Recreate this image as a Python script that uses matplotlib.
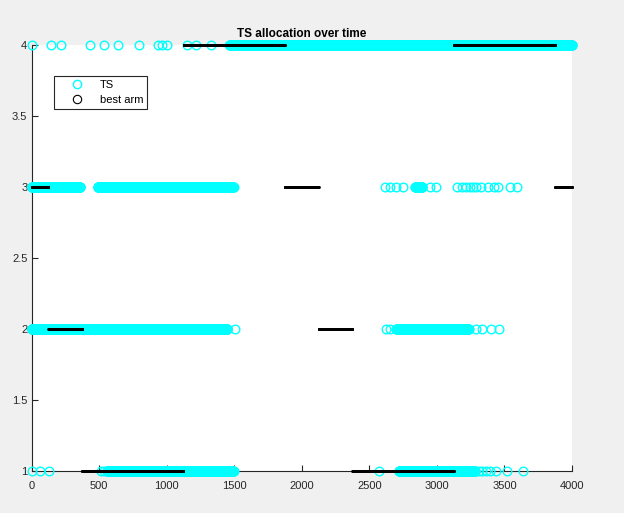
import numpy as np
import matplotlib.pyplot as plt
from matplotlib.lines import Line2D

plt.rcParams['font.family'] = ['Liberation Sans', 'DejaVu Sans']

# best arm, piecewise constant: segments [start, end) and arm
best_start = [0, 125, 375, 1125, 1875, 2125, 2375, 3125, 3875]
best_end = [125, 375, 1125, 1875, 2125, 2375, 3125, 3875, 4000]
best_arm = [3, 2, 1, 4, 3, 2, 1, 4, 3]

# TS choices: dense runs (start, end) and single picks, per arm
ts_runs = {
    1: [(560, 1495), (2720, 3285)],
    2: [(0, 1450), (2700, 3235)],
    3: [(0, 360), (490, 1495), (2840, 2890)],
    4: [(1465, 4000)],
}
ts_single = {
    1: [0, 63, 130, 515, 540, 2572, 3310, 3336, 3366, 3395, 3440, 3518, 3637],
    2: [1505, 2621, 2656, 3292, 3336, 3403, 3459],
    3: [2614, 2651, 2700, 2749, 2946, 2996, 3150, 3185, 3215, 3242, 3265,
        3292, 3329, 3378, 3420, 3452, 3543, 3592],
    4: [0, 144, 218, 432, 536, 637, 795, 938, 962, 1000, 1147, 1214, 1325],
}

fig = plt.figure(figsize=(6.24, 5.13), dpi=100)
fig.patch.set_facecolor('#f0f0f0')
ax = fig.add_axes([0.0505, 0.0819, 0.8662, 0.8304])

for arm in [1, 2, 3, 4]:
    t = list(ts_single[arm])
    for a, b in ts_runs[arm]:
        t.extend(range(a, b + 1))
    t = np.array(t)
    ax.plot(t, np.full(len(t), arm), 'o', color='cyan', mfc='none',
            markersize=6.2, mew=1.0, clip_on=False, zorder=3)

for a, b, arm in zip(best_start, best_end, best_arm):
    t = np.arange(a, b)
    ax.plot(t, np.full(len(t), arm), 'o', color='k', mfc='none',
            markersize=1.2, mew=0.8, clip_on=False, zorder=4)

ax.set_xlim(0, 4000)
ax.set_ylim(1, 4)
ax.set_xticks(np.arange(0, 4001, 500))
ax.set_yticks([1, 1.5, 2, 2.5, 3, 3.5, 4])
ax.set_yticklabels(['1', '1.5', '2', '2.5', '3', '3.5', '4'])
for s in ['top', 'right']:
    ax.spines[s].set_visible(False)
for s in ['left', 'bottom']:
    ax.spines[s].set_color('#262626')
    ax.spines[s].set_linewidth(0.8)
ax.tick_params(direction='in', length=4, width=0.8, colors='#262626',
               labelsize=8)
ax.tick_params(axis='x', pad=7)
ax.tick_params(axis='y', pad=3)

ax.set_title('TS allocation over time', fontsize=8.5, fontweight='bold',
             pad=6)

handles = [Line2D([], [], marker='o', color='cyan', mfc='none', ls='none',
                  markersize=6, mew=1.0),
           Line2D([], [], marker='o', color='k', mfc='none', ls='none',
                  markersize=6, mew=0.8)]
leg = ax.legend(handles, ['TS', 'best arm'], loc='upper left',
                bbox_to_anchor=(0.0416, 0.927), borderaxespad=0,
                fontsize=8, fancybox=False, framealpha=1,
                edgecolor='#262626', handlelength=3.4, handletextpad=0.35,
                labelspacing=0.45, borderpad=0.35)
leg.get_frame().set_linewidth(0.8)

fig.savefig('out.png', dpi=100, facecolor=fig.get_facecolor())
